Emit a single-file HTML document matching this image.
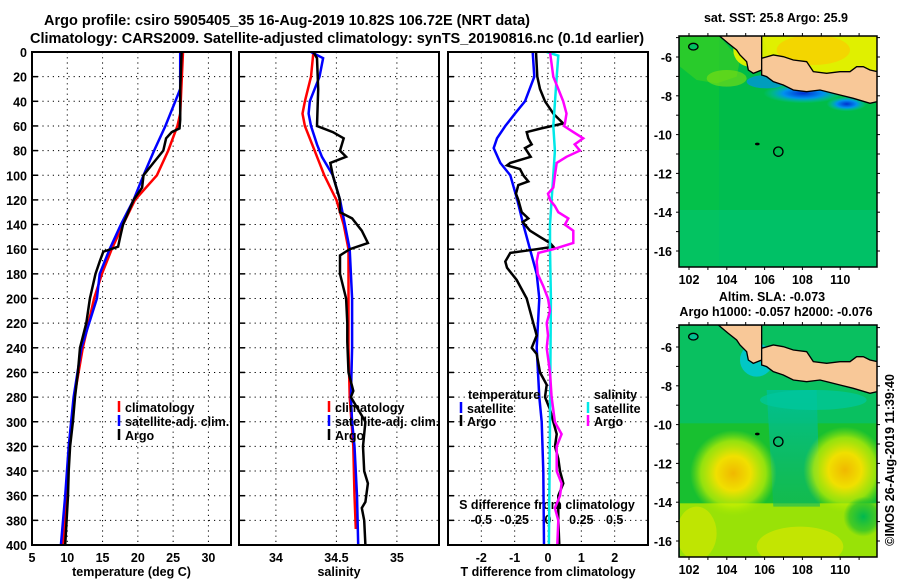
<!DOCTYPE html>
<html><head><meta charset="utf-8">
<style>
html,body{margin:0;padding:0;background:#fff;}
svg{display:block;font-family:"Liberation Sans",Arial,sans-serif;font-weight:bold;}
</style></head>
<body>
<svg id="fig" width="900" height="580" viewBox="0 0 900 580" xmlns="http://www.w3.org/2000/svg">
<defs>
<radialGradient id="blobL" cx="0.5" cy="0.5" r="0.5">
<stop offset="0" stop-color="#f0b800"/><stop offset="0.4" stop-color="#f0e000"/><stop offset="0.75" stop-color="#c8f000" stop-opacity="0.7"/><stop offset="1" stop-color="#a0e800" stop-opacity="0"/></radialGradient>
<radialGradient id="blobG" cx="0.5" cy="0.5" r="0.5">
<stop offset="0" stop-color="#00b850"/><stop offset="0.7" stop-color="#20c030" stop-opacity="0.7"/><stop offset="1" stop-color="#20c030" stop-opacity="0"/></radialGradient>
<linearGradient id="tongue" x1="0" y1="0" x2="0" y2="1">
<stop offset="0" stop-color="#00c090"/><stop offset="1" stop-color="#10b860" stop-opacity="0.6"/></linearGradient>
<radialGradient id="blueBand" cx="0.5" cy="0.5" r="0.5">
<stop offset="0" stop-color="#0030d0"/><stop offset="0.5" stop-color="#0090f0"/><stop offset="1" stop-color="#00c8c0" stop-opacity="0"/></radialGradient>
<clipPath id="clipTop"><rect x="679" y="36" width="198" height="231"/></clipPath>
<clipPath id="clipBot"><rect x="679" y="325" width="198" height="232"/></clipPath>
</defs>

<text x="287" y="25" font-size="14.5" text-anchor="middle">Argo profile: csiro 5905405_35 16-Aug-2019 10.82S 106.72E (NRT data)</text>
<text x="337" y="43" font-size="14.5" text-anchor="middle">Climatology: CARS2009. Satellite-adjusted climatology: synTS_20190816.nc (0.1d earlier)</text>

<g id="p1"></g>
<g id="p2"></g>
<g id="p3"></g>

<!-- top map -->
<text x="776" y="22" font-size="12.5" text-anchor="middle">sat. SST: 25.8 Argo: 25.9</text>
<g clip-path="url(#clipTop)">
<rect x="679" y="36" width="198" height="231" fill="#00bc48"/>
<rect x="679" y="36" width="40" height="231" fill="#10c830" opacity="0.5"/>
<rect x="679" y="210" width="198" height="57" fill="#00c480" opacity="0.55"/>
<rect x="679" y="150" width="198" height="60" fill="#00c060" opacity="0.4"/>
<g transform="translate(640,0) scale(0.3333)">
<polygon points="120,105 235,105 300,180 290,230 230,250 170,240 120,200" fill="#40d020" opacity="0.6"/>
<ellipse cx="260" cy="235" rx="60" ry="25" fill="#80e010" opacity="0.6"/>
<polygon points="365,105 712,105 712,215 690,210 670,200 650,200 630,215 600,215 560,220 520,215 500,185 460,180 430,170 400,165 365,175" fill="#e0f000"/>
<ellipse cx="520" cy="150" rx="110" ry="45" fill="#f8d000" opacity="0.8"/>
<ellipse cx="330" cy="150" rx="50" ry="50" fill="#d8f000"/>
<ellipse cx="490" cy="280" rx="120" ry="30" fill="url(#blueBand)"/>
<ellipse cx="620" cy="312" rx="60" ry="22" fill="url(#blueBand)"/>
<ellipse cx="380" cy="245" rx="60" ry="20" fill="#0090f0" opacity="0.7"/>
<path id="landT" d="M235,105 L265,130 L290,150 L300,165 L320,185 L325,210 L340,220 L365,210 L365,105 Z M365,175 L400,165 L430,170 L460,180 L500,185 L520,215 L560,220 L600,215 L630,215 L650,200 L670,200 L690,210 L712,215 L712,305 L690,310 L640,295 L600,285 L540,270 L500,275 L460,270 L430,255 L400,245 L380,230 L365,225 Z" fill="#f8c898" stroke="#000" stroke-width="4"/>
<ellipse cx="160" cy="140" rx="14" ry="10" fill="#00c060" stroke="#000" stroke-width="4"/>
<ellipse cx="352" cy="432" rx="7" ry="4" fill="#000"/>
<circle cx="415" cy="455" r="14" fill="none" stroke="#000" stroke-width="4"/>
</g>
</g>
<rect x="679" y="36" width="198" height="231" fill="none" stroke="#000" stroke-width="1.5"/>
<g id="mapTopAxes"></g>

<!-- bottom map -->
<text x="772" y="301" font-size="12.5" text-anchor="middle">Altim. SLA: -0.073</text>
<text x="776" y="316" font-size="12.5" text-anchor="middle">Argo h1000: -0.057 h2000: -0.076</text>
<g clip-path="url(#clipBot)">
<rect x="679" y="325" width="198" height="232" fill="#18c030"/>
<g transform="translate(640,290) scale(0.3333)">
<rect x="120" y="100" width="600" height="300" fill="#00c080" opacity="0.6"/>
<rect x="120" y="640" width="600" height="170" fill="#b0e800" opacity="0.85"/>
<polygon points="380,300 530,300 540,650 400,650" fill="url(#tongue)"/>
<ellipse cx="280" cy="550" rx="130" ry="130" fill="url(#blobL)"/>
<ellipse cx="615" cy="540" rx="125" ry="130" fill="url(#blobL)"/>
<ellipse cx="480" cy="770" rx="130" ry="60" fill="#e0e800" opacity="0.6"/>
<ellipse cx="170" cy="730" rx="60" ry="80" fill="#d8e800" opacity="0.6"/>
<ellipse cx="670" cy="680" rx="60" ry="60" fill="url(#blobG)"/>
<ellipse cx="350" cy="210" rx="50" ry="50" fill="#00c8e0" opacity="0.8"/>
<ellipse cx="520" cy="330" rx="160" ry="30" fill="#00c8a0" opacity="0.7"/>
<use href="#landT"/>
<ellipse cx="160" cy="140" rx="14" ry="10" fill="#00c090" stroke="#000" stroke-width="4"/>
<ellipse cx="352" cy="432" rx="7" ry="4" fill="#000"/>
<circle cx="415" cy="455" r="14" fill="none" stroke="#000" stroke-width="4"/>
</g>
</g>
<rect x="679" y="325" width="198" height="232" fill="none" stroke="#000" stroke-width="1.5"/>
<g id="mapBotAxes"></g>
<text x="0" y="0" font-size="12.5" text-anchor="middle" transform="translate(894,460) rotate(-90)">©IMOS 26-Aug-2019 11:39:40</text>
</svg>

<script>
// ---------- data ----------
const depthTicks = [0,20,40,60,80,100,120,140,160,180,200,220,240,260,280,300,320,340,360,380,400];
const tempTicks = [5,10,15,20,25,30];
const salTicks = [34,34.5,35];
const dTTicks = [-2,-1,0,1,2];
const dSTicks = [-0.5,-0.25,0,0.25,0.5];
const dSTickLabels = ["-0.5","-0.25","0","0.25","0.5"];

const tempClimDepth = [0,50,60,80,100,120,140,160,180,200,240,280,320,360,400];
const tempClim = [26.4,26.0,25.6,24.3,22.7,19.6,17.9,16.3,14.9,13.8,12.2,11.0,10.3,9.8,9.4];
const tempSatDepth = [0,30,40,60,80,100,120,140,160,180,200,240,280,320,360,400];
const tempSat = [26.0,26.0,25.3,23.9,22.3,20.8,19.4,17.6,16.0,14.6,14.2,12.0,10.9,10.2,9.7,9.1];
const tempArgoDepth = [0,30,55,62,65,70,80,90,100,110,120,140,150,158,162,170,180,200,220,240,260,280,300,320,340,360,380,400];
const tempArgo = [26.2,26.0,26.0,25.9,24.8,24.0,23.6,22.2,20.8,20.6,19.4,17.9,17.5,17.2,15.1,14.6,14.0,13.2,12.7,11.8,11.5,11.1,10.8,10.4,10.2,10.1,9.9,9.7];

const salClimDepth = [0,20,40,50,60,80,100,120,140,160,200,240,280,320,360,387];
const salClim = [34.31,34.29,34.24,34.22,34.24,34.32,34.40,34.50,34.56,34.60,34.60,34.60,34.61,34.64,34.65,34.66];
const salSatDepth = [0,5,20,40,50,60,75,85,100,120,140,160,200,240,280,300,320,360,400];
const salSat = [34.29,34.39,34.36,34.28,34.27,34.29,34.34,34.38,34.47,34.53,34.57,34.61,34.63,34.63,34.62,34.63,34.65,34.67,34.68];
const salArgoDepth = [0,5,30,60,65,70,80,85,90,100,120,130,135,145,155,160,165,180,200,220,235,260,275,280,300,320,340,350,365,370,380,400];
const salArgo = [34.31,34.34,34.35,34.34,34.47,34.56,34.53,34.58,34.45,34.47,34.53,34.53,34.63,34.71,34.76,34.61,34.53,34.53,34.58,34.59,34.59,34.60,34.64,34.62,34.74,34.72,34.73,34.76,34.74,34.71,34.73,34.74];

const dTSatDepth = [0,20,40,50,60,70,78,90,100,120,140,160,180,200,240,280,300,340,400];
const dTSat = [-0.46,-0.41,-0.69,-0.99,-1.28,-1.53,-1.63,-1.43,-1.13,-0.92,-0.74,-0.54,-0.34,-0.26,-0.34,-0.26,-0.19,-0.14,-0.12];
const dTArgoDepth = [0,20,30,40,50,58,62,65,70,75,78,85,90,92,95,100,105,108,115,120,130,135,138,145,150,155,158,160,163,170,175,185,200,220,230,240,245,260,270,280,290,300,310,320,330,340,350,360,380,400];
const dTArgo = [-0.36,-0.32,-0.24,-0.09,0.16,0.46,-0.2,-0.64,-0.59,-0.49,-0.69,-0.52,-1.13,-1.23,-0.84,-0.74,-0.59,-0.89,-0.96,-0.89,-0.79,-0.59,-0.76,-0.54,-0.24,0.06,0.16,-0.34,-1.13,-1.28,-1.23,-0.94,-0.64,-0.44,-0.34,-0.49,-0.34,-0.24,-0.04,-0.09,0.06,0.16,0.26,0.21,0.31,0.36,0.46,0.31,0.31,0.34];
const dSSatDepth = [0,3,20,60,80,100,120,140,160,200,300,400];
const dSSat = [-0.01,0.077,0.065,0.04,0.052,0.04,0.027,0.015,0.015,0.022,0.015,0.007];
const dSArgoDepth = [0,20,30,40,50,58,60,65,70,75,80,85,90,100,110,115,120,125,130,135,140,145,155,160,163,170,180,190,200,210,220,230,240,260,280,300,303,310,320,340,350,360,370,380,400];
const dSArgo = [0.015,0.04,0.077,0.114,0.139,0.127,0.12,0.19,0.264,0.2,0.239,0.139,0.065,0.052,0.04,0.0,0.015,0.052,0.077,0.152,0.127,0.19,0.19,0.04,-0.072,-0.085,-0.077,-0.035,0.0,0.015,-0.01,0.0,-0.01,0.015,0.027,0.052,0.065,0.102,0.065,0.065,0.102,0.09,0.052,0.077,0.07];

const lonTicks = [102,104,106,108,110];
const latTicks = [-6,-8,-10,-12,-14,-16];

// ---------- helpers ----------
const NS = "http://www.w3.org/2000/svg";
function mk(parent, tag, attrs, txt){
  const e = document.createElementNS(NS, tag);
  for (const k in attrs) e.setAttribute(k, attrs[k]);
  if (txt !== undefined) e.textContent = txt;
  parent.appendChild(e);
  return e;
}
const Y0 = 52, Y1 = 545;
const yD = d => Y0 + (Y1 - Y0) * d / 400;

function panel(g, left, right, xmin, xmax, xticks, xlabels, title){
  const xS = v => left + (right - left) * (v - xmin) / (xmax - xmin);
  depthTicks.forEach(d => {
    if (d === 0 || d === 400) return;
    const gl = mk(g, "line", {x1:left, x2:right, y1:yD(d), y2:yD(d), stroke:"#000", "stroke-width":1, "stroke-dasharray":"1.2,4"});
    
    
    const tk = mk(g, "line", {x1:left, x2:left+6, y1:yD(d), y2:yD(d), stroke:"#000", "stroke-width":1.5});
    
    
  });
  xticks.forEach((v, i) => {
    const x = xS(v);
    if (x > left + 1 && x < right - 1) {
      const gl = mk(g, "line", {x1:x, x2:x, y1:Y0, y2:Y1, stroke:"#000", "stroke-width":1, "stroke-dasharray":"1.2,4"});
      
      
    }
    const t = mk(g, "text", {x:x, y:562, "font-size":12.5, "text-anchor":"middle"}, xlabels[i]);
    
    
  });
  const tt = mk(g, "text", {x:(left+right)/2, y:576, "font-size":12.5, "text-anchor":"middle"}, title);
  
  
  return xS;
}
function frame(g, left, right){
  const f = mk(g, "rect", {x:left, y:Y0, width:right-left, height:Y1-Y0, fill:"none", stroke:"#000", "stroke-width":2});
  
  
}
function series(g, xS, depths, vals, color, name){
  const pts = depths.map((d, i) => xS(vals[i]).toFixed(1) + "," + yD(d).toFixed(1)).join(" ");
  const p = mk(g, "polyline", {points:pts, fill:"none", stroke:color, "stroke-width":2.5, "stroke-linejoin":"miter"});
  
  
}
function legendEntry(g, x, y, color, label){
  const b = mk(g, "line", {x1:x, x2:x, y1:y-11, y2:y, stroke:color, "stroke-width":2.5});
  
  
  const t = mk(g, "text", {x:x+6, y:y, "font-size":12.5}, label);
  
  
}

// ---------- panel 1 ----------
const g1 = document.getElementById("p1");
const xT = panel(g1, 32, 231, 5, 33.2, tempTicks, tempTicks.map(String), "temperature (deg C)");
depthTicks.forEach(d => {
  const t = mk(g1, "text", {x:27, y:yD(d)+5, "font-size":12.5, "text-anchor":"end"}, String(d));
  
  
});
series(g1, xT, tempClimDepth, tempClim, "#ff0000", "temperature-climatology-line");
series(g1, xT, tempSatDepth, tempSat, "#0000ff", "temperature-satellite-line");
series(g1, xT, tempArgoDepth, tempArgo, "#000000", "temperature-argo-line");
frame(g1, 32, 231);
legendEntry(g1, 119, 412, "#ff0000", "climatology");
legendEntry(g1, 119, 426, "#0000ff", "satellite-adj. clim.");
legendEntry(g1, 119, 440, "#000000", "Argo");

// ---------- panel 2 ----------
const g2 = document.getElementById("p2");
const xS2 = panel(g2, 239, 439, 33.695, 35.348, salTicks, salTicks.map(String), "salinity");
series(g2, xS2, salClimDepth, salClim, "#ff0000", "salinity-climatology-line");
series(g2, xS2, salSatDepth, salSat, "#0000ff", "salinity-satellite-line");
series(g2, xS2, salArgoDepth, salArgo, "#000000", "salinity-argo-line");
frame(g2, 239, 439);
legendEntry(g2, 329, 412, "#ff0000", "climatology");
legendEntry(g2, 329, 426, "#0000ff", "satellite-adj. clim.");
legendEntry(g2, 329, 440, "#000000", "Argo");

// ---------- panel 3 ----------
const g3 = document.getElementById("p3");
const xD = panel(g3, 448, 648, -3, 3, dTTicks, dTTicks.map(String), "T difference from climatology");
const xDS = v => xD(v * 4);
dSTicks.forEach((v, i) => {
  const t = mk(g3, "text", {x:xDS(v), y:524, "font-size":12.5, "text-anchor":"middle"}, dSTickLabels[i]);
  
  
});
const sdt = mk(g3, "text", {x:547, y:509, "font-size":12.5, "text-anchor":"middle"}, "S difference from climatology");


series(g3, xD, dTSatDepth, dTSat, "#0000ff", "t-diff-satellite-line");
series(g3, xD, dTArgoDepth, dTArgo, "#000000", "t-diff-argo-line");
series(g3, xDS, dSSatDepth, dSSat, "#00e8e8", "s-diff-satellite-line");
series(g3, xDS, dSArgoDepth, dSArgo, "#ff00ff", "s-diff-argo-line");
frame(g3, 448, 648);
const lt = mk(g3, "text", {x:468, y:399, "font-size":12.5}, "temperature");


legendEntry(g3, 461, 413, "#0000ff", "satellite");
legendEntry(g3, 461, 426, "#000000", "Argo");
const ls = mk(g3, "text", {x:594, y:399, "font-size":12.5}, "salinity");


legendEntry(g3, 588, 413, "#00e8e8", "satellite");
legendEntry(g3, 588, 426, "#ff00ff", "Argo");

// ---------- map axes ----------
function mapAxes(id, top, bottom, latY0){
  const g = document.getElementById(id);
  const lonX = lon => 689 + (lon - 102) * 18.9;
  const latY = lat => latY0 + (-6 - lat) * 19.4;
  for (let lon = 102; lon <= 111; lon++) {
    const x = lonX(lon);
    const a = mk(g, "line", {x1:x, x2:x, y1:top-3, y2:top, stroke:"#000", "stroke-width":1});
    
    
    const b = mk(g, "line", {x1:x, x2:x, y1:bottom, y2:bottom+3, stroke:"#000", "stroke-width":1});
    
    
  }
  for (let lat = -5; lat >= -17; lat--) {
    const y = latY(lat);
    if (y < top || y > bottom) continue;
    const a = mk(g, "line", {x1:676, x2:679, y1:y, y2:y, stroke:"#000", "stroke-width":1});
    
    
    const b = mk(g, "line", {x1:877, x2:880, y1:y, y2:y, stroke:"#000", "stroke-width":1});
    
    
  }
  lonTicks.forEach(lon => {
    const t = mk(g, "text", {x:lonX(lon), y:bottom+17, "font-size":12.5, "text-anchor":"middle"}, String(lon));
    
    
  });
  latTicks.forEach(lat => {
    const t = mk(g, "text", {x:672, y:latY(lat)+5, "font-size":12.5, "text-anchor":"end"}, String(lat));
    
    
  });
}
mapAxes("mapTopAxes", 36, 267, 57);
mapAxes("mapBotAxes", 325, 557, 347);
</script>
</body></html>
